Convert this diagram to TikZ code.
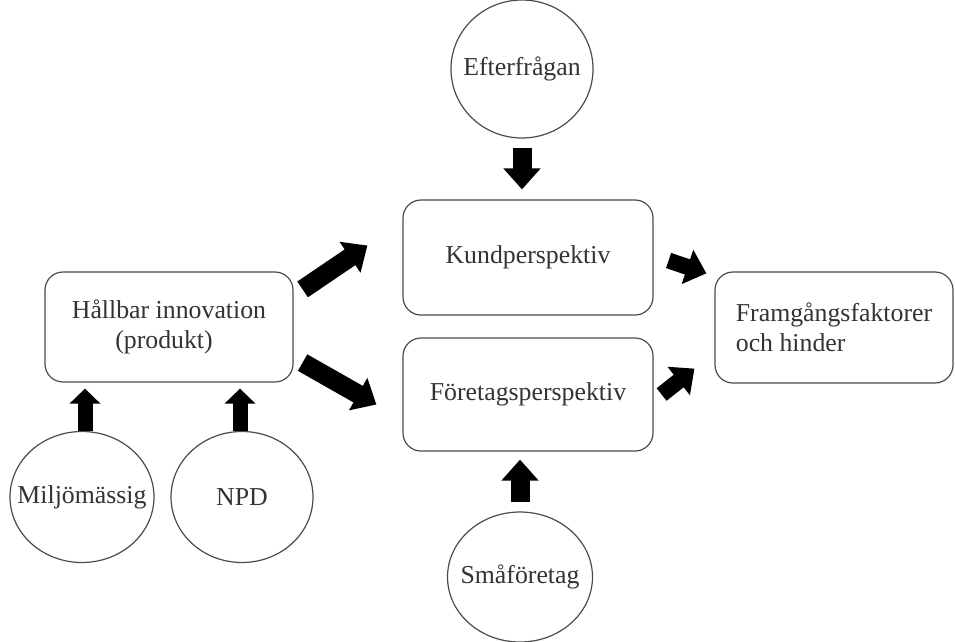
\documentclass[tikz,border=0pt]{standalone}
\usepackage{fontspec}
\setmainfont{Liberation Serif}
\usetikzlibrary{shapes.geometric,arrows.meta}
\begin{document}
\begin{tikzpicture}[x=1pt,y=-1pt,
  every node/.style={font=\fontsize{25.8}{30}\selectfont, text=black!80},
  roundbox/.style={draw=black!70, line width=1.2pt, rectangle, rounded corners=18pt, inner sep=0pt},
  oval/.style={draw=black!70, line width=1.2pt, ellipse, inner sep=0pt},
  ovaltext/.style={label={[inner sep=0pt]center:#1}},
  bigarrow/.style={line width=19pt, -{Triangle[width=36pt,length=21pt]}},
  midarrow/.style={line width=16pt, -{Triangle[width=35pt,length=20pt]}},
  smallarrow/.style={line width=15pt, -{Triangle[width=30pt,length=15pt]}}]
\useasboundingbox (0,0) rectangle (955,642);
\fill[white] (0,0) rectangle (955,642);

% boxes
\node[roundbox, minimum width=250pt, minimum height=115pt] (kund) at (528,257.5) {Kundperspektiv};
\node[roundbox, minimum width=250pt, minimum height=113pt] (foretag) at (528,394.5) {Företagsperspektiv};
\node[roundbox, minimum width=248pt, minimum height=110pt, align=center] (hallbar) at (169,327) {Hållbar innovation\\\hspace*{-10pt}(produkt)};
\node[roundbox, minimum width=238pt, minimum height=111pt, align=left] (framg) at (834,327.5) {Framgångsfaktorer\\och hinder};

% ovals, with their text set as a centred label
\node[oval, minimum width=142pt, minimum height=138pt, ovaltext=Efterfrågan] (efter) at (522,69) {};
\node[oval, minimum width=144pt, minimum height=131pt, ovaltext=Miljömässig] (miljo) at (82,497) {};
\node[oval, minimum width=142pt, minimum height=131pt, ovaltext=NPD] (npd) at (242,497) {};
\node[oval, minimum width=145pt, minimum height=130pt, ovaltext=Småföretag] (sma) at (520,577) {};

% vertical arrows
\draw[bigarrow, shorten <=9pt, shorten >=10pt] (efter.south) -- (efter.south |- kund.north);
\draw[bigarrow, shorten <=9pt, shorten >=8pt] (sma.north) -- (sma.north |- foretag.south);
\draw[smallarrow, shorten >=6pt] ([xshift=3pt]miljo.north) -- ([xshift=3pt]miljo.north |- hallbar.south);
\draw[smallarrow, shorten >=6pt] ([xshift=-2pt]npd.north) -- ([xshift=-2pt]npd.north |- hallbar.south);

% diagonal arrows
\draw[bigarrow] ([shift={(9,18)}]hallbar.north east) -- ([shift={(-35,-12)}]kund.west);
\draw[bigarrow] ([shift={(9,-20)}]hallbar.south east) -- ([shift={(-26,10)}]foretag.west);
\draw[midarrow] ([shift={(15,3)}]kund.east) -- ([shift={(-8,2)}]framg.north west);
\draw[midarrow] ([shift={(8,0)}]foretag.east) -- ([shift={(-20,-15)}]framg.south west);
\end{tikzpicture}
\end{document}
